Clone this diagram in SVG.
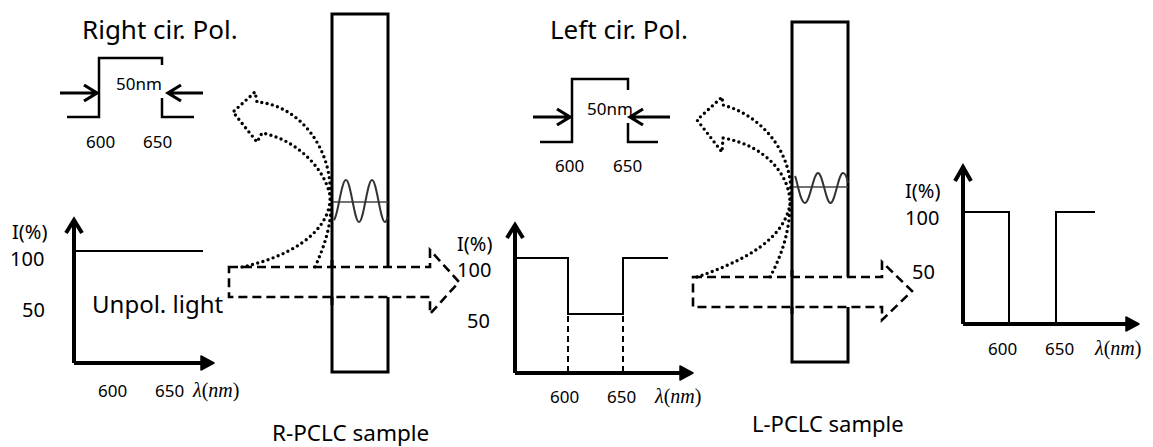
<svg xmlns="http://www.w3.org/2000/svg" width="1153" height="447" viewBox="0 0 1153 447">
<style>
.t{font-family:"Noto Sans","Open Sans","DejaVu Sans",sans-serif;fill:#000}
.m{font-family:"Liberation Serif","DejaVu Serif",serif;fill:#000;font-size:20px}
.mi{font-style:italic}
.st{fill:none;stroke:#000;stroke-width:2.5}
.ar{fill:none;stroke:#000;stroke-width:3.2}
.ax{fill:none;stroke:#000;stroke-width:4}
.ah{fill:#000;stroke:#000;stroke-width:1.5;stroke-linejoin:round}
.g{fill:none;stroke:#000;stroke-width:2}
.gd{fill:none;stroke:#000;stroke-width:2;stroke-dasharray:6 4}
.bx{fill:none;stroke:#000;stroke-width:3}
.da{fill:#fff;stroke:#000;stroke-width:2.6;stroke-dasharray:9 5}
.dot{fill:none;stroke:#000;stroke-width:3.4;stroke-linecap:round;stroke-dasharray:0 5.4}
.wv{fill:none;stroke:#333;stroke-width:2}
.wl{fill:none;stroke:#444;stroke-width:1.6}
</style>

<g id="right-pol-spectrum">
<text class="t" x="82" y="39" font-size="26">Right cir. Pol.</text>
<path class="st" d="M67,117 H99 V58 H162 V65 M162,98 V117 H194"/>
<path class="ar" d="M60,93 H96 M84,85 L97,93 L84,101 M203,93 H169 M181,85 L168,93 L181,101"/>
<text class="t" x="116" y="90" font-size="17">50nm</text>
<text class="t" x="86" y="148" font-size="17">600</text>
<text class="t" x="143" y="148" font-size="17">650</text>
</g>

<g id="input-graph">
<path class="ax" d="M74,363 V221 M66,233 L74,220 L82,233 M74,363 H203"/>
<path class="ah" d="M201,356 L214,363 L201,370 Z"/>
<path class="g" d="M74,251 H203"/>
<text class="t" x="12" y="239" font-size="20">I(%)</text>
<text class="t" x="10" y="266" font-size="20">100</text>
<text class="t" x="22" y="317" font-size="20">50</text>
<text class="t" x="98" y="397" font-size="17">600</text>
<text class="t" x="155" y="397" font-size="17">650</text>
<text class="m" x="193" y="397"><tspan class="mi">λ</tspan>(<tspan class="mi">nm</tspan>)</text>
<text class="t" x="92" y="313" font-size="24">Unpol. light</text>
</g>

<g id="r-pclc-sample">
<rect class="bx" x="332" y="14" width="56" height="358"/>
<path class="wl" d="M333,202 H388"/>
<path class="wv" d="M334,220 C338,216 341.3,180 346,180 S354.3,222 359,222 S367.3,180 372,180 S380.3,222 385,222 C386,222 386.8,220 387.5,217"/>
<text class="t" x="272" y="441" font-size="22.5">R-PCLC sample</text>
</g>

<g id="l-pol-spectrum">
<text class="t" x="550" y="39" font-size="26">Left cir. Pol.</text>
<path class="st" d="M540,142 H572 V79 H628 V90 M628,123 V142 H658"/>
<path class="ar" d="M533,117 H569 M557,109 L570,117 L557,125 M670,117 H631 M643,109 L630,117 L643,125"/>
<text class="t" x="587" y="115" font-size="17">50nm</text>
<text class="t" x="555" y="172" font-size="17">600</text>
<text class="t" x="613" y="172" font-size="17">650</text>
</g>

<g id="middle-graph">
<path class="ax" d="M515,373 V226 M507,238 L515,225 L523,238 M515,373 H682"/>
<path class="ah" d="M680,366 L693,373 L680,380 Z"/>
<path class="g" d="M515,258 H568 V314 H623 V258 H668"/>
<path class="gd" d="M568,316 V373 M623,316 V373"/>
<text class="t" x="457" y="251" font-size="20">I(%)</text>
<text class="t" x="457" y="277" font-size="20">100</text>
<text class="t" x="467" y="328" font-size="20">50</text>
<text class="t" x="550" y="403" font-size="17">600</text>
<text class="t" x="607" y="403" font-size="17">650</text>
<text class="m" x="655" y="403"><tspan class="mi">λ</tspan>(<tspan class="mi">nm</tspan>)</text>
</g>

<g id="l-pclc-sample">
<rect class="bx" x="792" y="22" width="56" height="340"/>
<path class="wl" d="M793,187 H848"/>
<path class="wv" d="M795,176 C797,180 800.3,203 805,203 S813.5,173 818,173 S826,203 830.5,203 S838.5,173 843,173 C845.5,173 847,178 848,183"/>
<text class="t" x="752" y="432" font-size="22">L-PCLC sample</text>
</g>

<g id="output-graph">
<path class="ax" d="M963,324 V169 M955,181 L963,167 L971,181 M963,324 H1128"/>
<path class="ah" d="M1126,317 L1139,324 L1126,331 Z"/>
<path class="g" d="M963,212 H1009 V324 H1056 V212 H1095"/>
<text class="t" x="905" y="198" font-size="20">I(%)</text>
<text class="t" x="905" y="225" font-size="20">100</text>
<text class="t" x="912" y="279" font-size="20">50</text>
<text class="t" x="988" y="355" font-size="17">600</text>
<text class="t" x="1045" y="355" font-size="17">650</text>
<text class="m" x="1095" y="355"><tspan class="mi">λ</tspan>(<tspan class="mi">nm</tspan>)</text>
</g>

<g id="connectors">
<path class="da" d="M229,267 L430,267 L430,250 L459,282 L430,314 L430,297 L229,297 Z"/>
<path class="bx" d="M332,260 V305"/>
<path class="dot" d="M242,267 C285,258 328,235 330,200 C334,150 300,105 257,102 L255,92 L233,112 L257,142 L262,133 C300,140 331,175 331,205 C331,225 325,245 315,267"/>
<path class="da" d="M693,277 L882,277 L882,262 L912,291 L882,320 L882,307 L693,307 Z"/>
<path class="bx" d="M792,270 V314"/>
<path class="dot" d="M697,277 C740,262 790,240 791,195 C792,150 760,115 723,105 L722,97 L697,120 L722,152 L723,138 C765,145 790,175 790,203 C790,230 782,255 770,277"/>
</g>
</svg>
